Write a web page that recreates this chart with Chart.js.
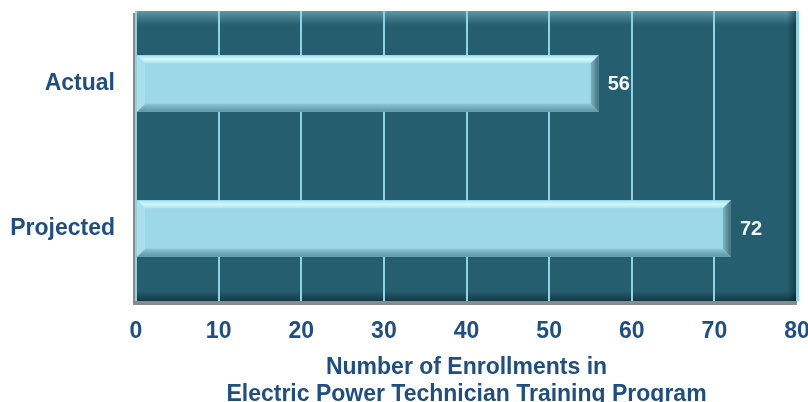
<!DOCTYPE html>
<html>
<head>
<meta charset="utf-8">
<script src="https://cdn.jsdelivr.net/npm/chart.js@4"></script>
<style>
  html, body { margin: 0; padding: 0; background: #fff; overflow: hidden; }
  #wrap { width: 808px; height: 402px; }
</style>
</head>
<body>
<div id="wrap"><canvas id="enroll-chart"></canvas></div>
<script>
const categories = ["Actual", "Projected"];
const enrollments = [56, 72];
const tickValues = [0, 10, 20, 30, 40, 50, 60, 70, 80];
const titleLines = ["Number of Enrollments in", "Electric Power Technician Training Program"];

const textBlue = '#1F4E82';
const plotBg = '#255E6E';
const fontFam = '"Liberation Sans", Arial, sans-serif';

// plot area background, bevel and shadow
const plotFrame = {
  id: 'plotFrame',
  beforeDraw(chart) {
    const {ctx, chartArea: a} = chart;
    ctx.save();
    ctx.fillStyle = '#8a8a8a';
    ctx.fillRect(a.left - 3, a.top + 2, a.right - a.left + 3, a.bottom - a.top + 2);
    ctx.fillStyle = plotBg;
    ctx.fillRect(a.left, a.top, a.right - a.left, a.bottom - a.top);
    // top bevel highlight
    let g = ctx.createLinearGradient(0, a.top, 0, a.top + 14);
    g.addColorStop(0, 'rgba(140,200,210,0.55)');
    g.addColorStop(1, 'rgba(140,200,210,0)');
    ctx.fillStyle = g;
    ctx.fillRect(a.left, a.top, a.right - a.left, 14);
    // bottom and right shade
    g = ctx.createLinearGradient(0, a.bottom - 10, 0, a.bottom);
    g.addColorStop(0, 'rgba(0,20,30,0)');
    g.addColorStop(1, 'rgba(0,20,30,0.5)');
    ctx.fillStyle = g;
    ctx.fillRect(a.left, a.bottom - 10, a.right - a.left, 10);
    g = ctx.createLinearGradient(a.right - 10, 0, a.right, 0);
    g.addColorStop(0, 'rgba(0,20,30,0)');
    g.addColorStop(1, 'rgba(0,20,30,0.5)');
    ctx.fillStyle = g;
    ctx.fillRect(a.right - 10, a.top, 10, a.bottom - a.top);
    ctx.fillStyle = '#8FD2E4';
    ctx.fillRect(a.right, a.top, 2, a.bottom - a.top);
    ctx.restore();
  }
};

// bevel on bars + value labels
const barBevel = {
  id: 'barBevel',
  afterDatasetsDraw(chart) {
    const {ctx} = chart;
    const meta = chart.getDatasetMeta(0);
    ctx.save();
    meta.data.forEach((bar, i) => {
      const {x, y, base, height} = bar.getProps(['x', 'y', 'base', 'height'], true);
      const top = y - height / 2, bot = y + height / 2, b = 8;
      // top light bevel
      let g = ctx.createLinearGradient(0, top, 0, top + b);
      g.addColorStop(0, '#a6dfec');
      g.addColorStop(0.5, '#cff8ff');
      g.addColorStop(1, '#aee3ef');
      ctx.fillStyle = g;
      ctx.beginPath();
      ctx.moveTo(base, top); ctx.lineTo(x, top); ctx.lineTo(x - b, top + b); ctx.lineTo(base + b, top + b);
      ctx.closePath(); ctx.fill();
      // bottom dark bevel
      g = ctx.createLinearGradient(0, bot - b, 0, bot);
      g.addColorStop(0, '#8cc6d4');
      g.addColorStop(1, '#5d95a4');
      ctx.fillStyle = g;
      ctx.beginPath();
      ctx.moveTo(base, bot); ctx.lineTo(x, bot); ctx.lineTo(x - b, bot - b); ctx.lineTo(base + b, bot - b);
      ctx.closePath(); ctx.fill();
      // right end bevel
      g = ctx.createLinearGradient(x - b, 0, x, 0);
      g.addColorStop(0, '#7fb6c4');
      g.addColorStop(1, '#3e6f7c');
      ctx.fillStyle = g;
      ctx.beginPath();
      ctx.moveTo(x, top); ctx.lineTo(x, bot); ctx.lineTo(x - b, bot - b); ctx.lineTo(x - b, top + b);
      ctx.closePath(); ctx.fill();
      // left bevel
      ctx.fillStyle = '#a9e0ed';
      ctx.beginPath();
      ctx.moveTo(base, top); ctx.lineTo(base, bot); ctx.lineTo(base + b, bot - b); ctx.lineTo(base + b, top + b);
      ctx.closePath(); ctx.fill();
      // value label
      ctx.fillStyle = '#f4fbfc';
      ctx.font = 'bold 20px ' + fontFam;
      ctx.textAlign = 'left';
      ctx.textBaseline = 'middle';
      ctx.fillText(String(enrollments[i]), x + 9, y + 1);
    });
    ctx.restore();
  }
};

new Chart(document.getElementById('enroll-chart'), {
  type: 'bar',
  data: {
    labels: categories,
    datasets: [{
      data: enrollments,
      backgroundColor: '#9DD8E8',
      borderWidth: 0,
      barPercentage: 0.39,
      categoryPercentage: 1
    }]
  },
  options: {
    indexAxis: 'y',
    responsive: true,
    maintainAspectRatio: false,
    animation: false,
    layout: { padding: { top: 11, right: 11, left: 0, bottom: 0 } },
    plugins: { legend: { display: false }, tooltip: { enabled: false } },
    scales: {
      x: {
        min: 0,
        max: 80,
        afterBuildTicks(scale) { scale.ticks = tickValues.map(v => ({ value: v })); },
        afterFit(scale) {
          scale.height = 101;
          scale.paddingLeft = 0;
          scale.paddingRight = 0;
        },
        grid: { color: '#8FD2E4', lineWidth: 2, drawTicks: false, drawOnChartArea: true },
        border: { display: false },
        ticks: {
          color: textBlue,
          padding: 17,
          font: { family: fontFam, size: 23, weight: 'bold' }
        },
        title: {
          display: true,
          text: titleLines,
          color: textBlue,
          padding: { top: 6, bottom: -6 },
          font: { family: fontFam, size: 23, weight: 'bold', lineHeight: 1.17 }
        }
      },
      y: {
        afterFit(scale) {
          scale.width = 136;
          scale.paddingTop = 0;
          scale.paddingBottom = 0;
        },
        grid: { display: false },
        border: { display: false },
        ticks: {
          color: textBlue,
          padding: 13,
          font: { family: fontFam, size: 23, weight: 'bold' }
        }
      }
    }
  },
  plugins: [plotFrame, barBevel]
});
</script>
</body>
</html>
